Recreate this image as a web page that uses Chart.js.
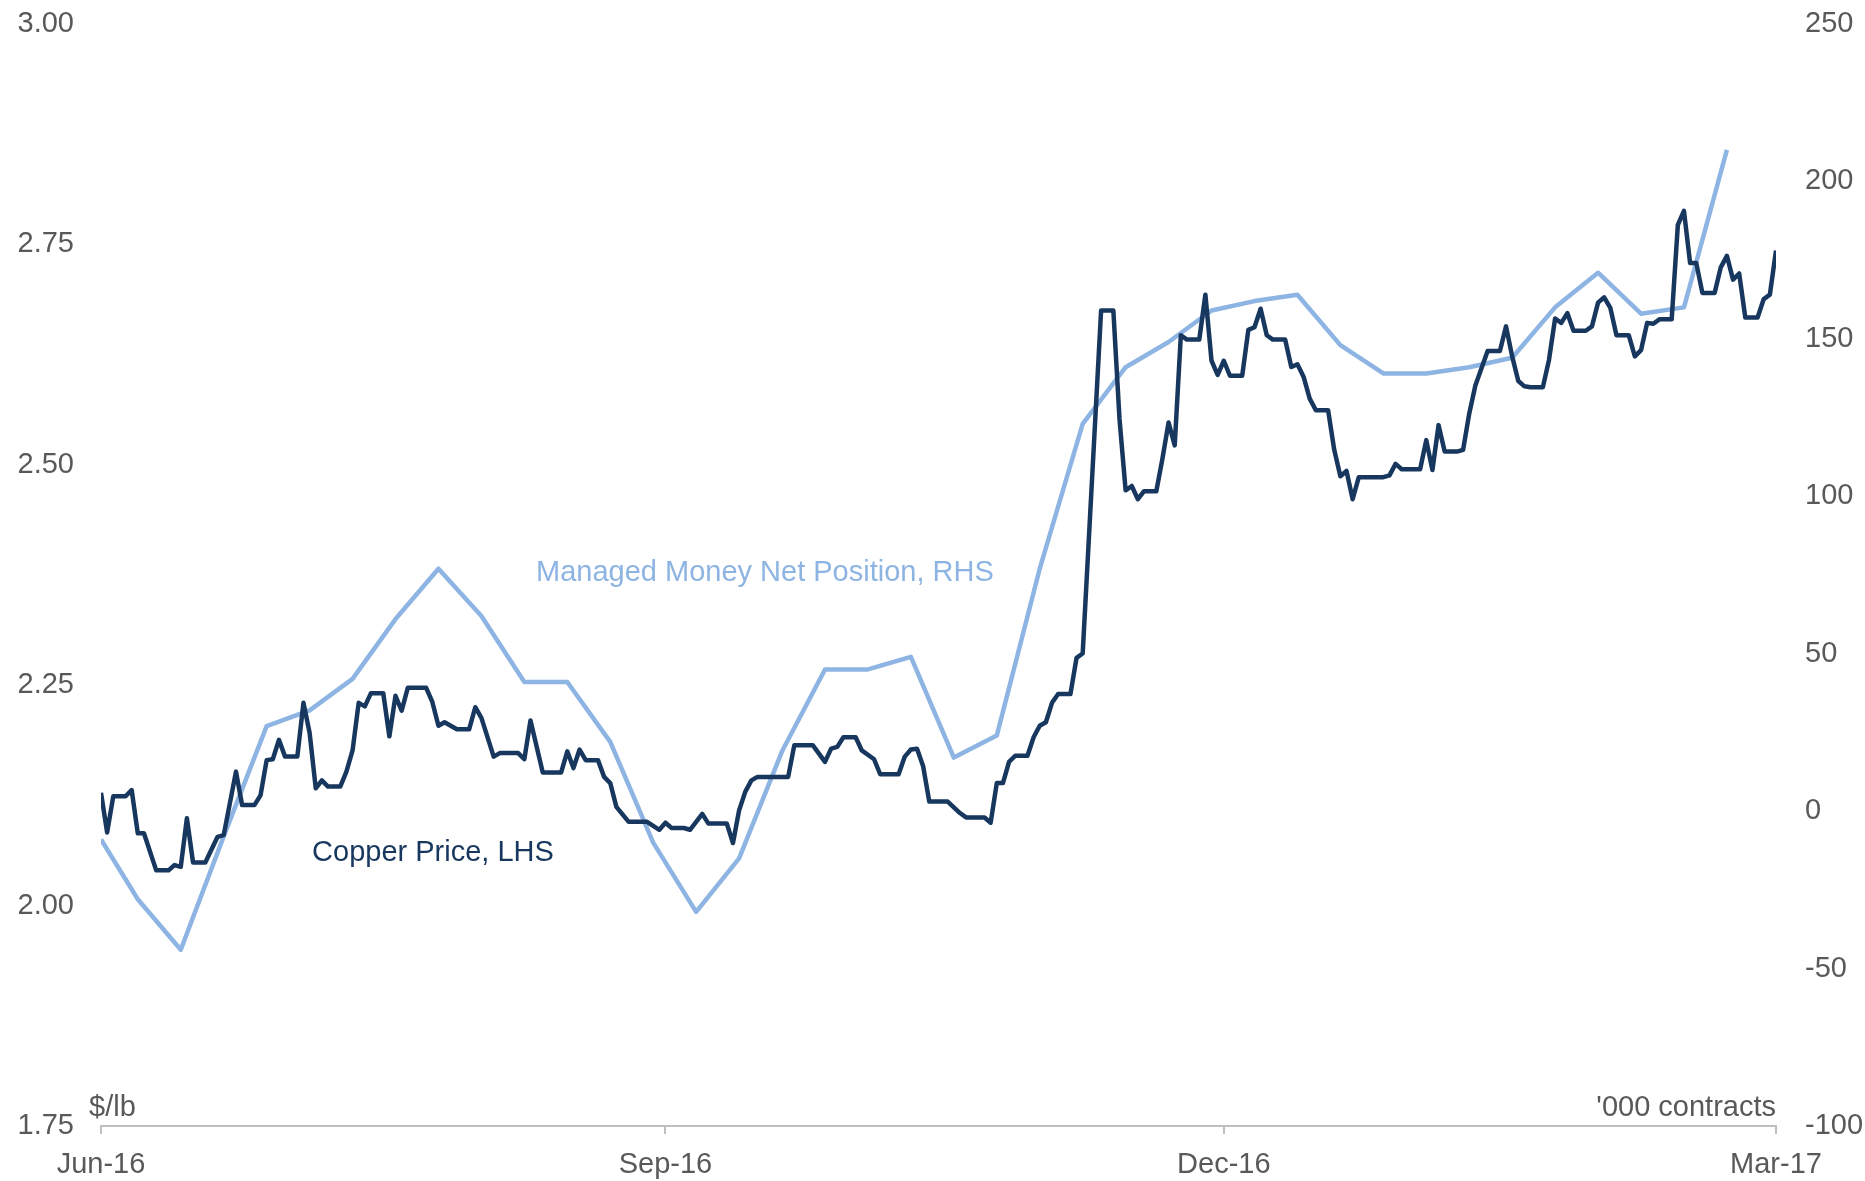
<!DOCTYPE html>
<html lang="en">
<head>
  <meta charset="UTF-8">
  <title>Copper Price vs Managed Money Net Position</title>
  <script src="https://cdn.jsdelivr.net/npm/chart.js"></script>
  <style>
    html, body { margin: 0; padding: 0; background: #fff; }
    #wrap { width: 1865px; height: 1181px; }
  </style>
</head>
<body>
  <div id="wrap"><canvas id="copperChart" width="1865" height="1181"></canvas></div>

  <script>
    // x values are days counted from 1 Jun 2016
    const copperDays = [0, 1, 2, 4, 5, 6, 7, 9, 11, 12, 13, 14, 15, 17, 19, 20, 22, 23, 25, 26, 27, 28, 29, 30, 32, 33, 34, 35, 36, 37, 39, 40, 41, 42, 43, 44, 46, 47, 48, 49, 50, 53, 54, 55, 56, 58, 60, 61, 62, 64, 65, 68, 69, 70, 72, 75, 76, 77, 78, 79, 81, 82, 83, 84, 86, 89, 91, 92, 93, 95, 96, 98, 99, 102, 103, 104, 105, 106, 107, 112, 113, 116, 118, 119, 120, 121, 123, 124, 126, 127, 130, 131, 132, 133, 134, 135, 138, 140, 141, 144, 145, 146, 147, 148, 149, 151, 152, 153, 154, 155, 156, 158, 159, 160, 163, 165, 166, 167, 168, 169, 170, 172, 173, 174, 175, 176, 177, 179, 180, 181, 182, 183, 184, 186, 187, 188, 189, 190, 191, 193, 194, 195, 196, 197, 198, 200, 201, 202, 203, 204, 205, 209, 210, 211, 212, 215, 216, 217, 218, 219, 221, 222, 223, 224, 226, 228, 229, 230, 231, 232, 233, 235, 236, 237, 238, 239, 240, 242, 243, 244, 245, 246, 247, 249, 250, 251, 252, 253, 254, 256, 257, 258, 259, 260, 261, 263, 264, 265, 266, 267, 268, 270, 271, 272, 273];
    const copperPrice = [2.128, 2.083, 2.124, 2.124, 2.131, 2.082, 2.082, 2.040, 2.040, 2.046, 2.044, 2.099, 2.049, 2.049, 2.078, 2.080, 2.152, 2.114, 2.114, 2.125, 2.165, 2.166, 2.188, 2.169, 2.169, 2.230, 2.196, 2.133, 2.142, 2.135, 2.135, 2.152, 2.176, 2.230, 2.226, 2.241, 2.241, 2.192, 2.238, 2.221, 2.247, 2.247, 2.231, 2.204, 2.208, 2.200, 2.200, 2.225, 2.213, 2.169, 2.173, 2.173, 2.166, 2.210, 2.151, 2.151, 2.175, 2.156, 2.177, 2.165, 2.165, 2.146, 2.139, 2.112, 2.095, 2.095, 2.086, 2.094, 2.088, 2.088, 2.086, 2.104, 2.093, 2.093, 2.071, 2.108, 2.129, 2.142, 2.146, 2.146, 2.182, 2.182, 2.163, 2.178, 2.180, 2.191, 2.191, 2.176, 2.166, 2.149, 2.149, 2.169, 2.177, 2.178, 2.158, 2.118, 2.118, 2.105, 2.100, 2.100, 2.094, 2.139, 2.139, 2.163, 2.170, 2.170, 2.191, 2.204, 2.208, 2.230, 2.240, 2.240, 2.281, 2.286, 2.675, 2.675, 2.552, 2.471, 2.476, 2.461, 2.470, 2.470, 2.507, 2.548, 2.522, 2.647, 2.642, 2.642, 2.693, 2.618, 2.602, 2.618, 2.601, 2.601, 2.653, 2.656, 2.677, 2.647, 2.642, 2.642, 2.611, 2.614, 2.600, 2.575, 2.562, 2.562, 2.517, 2.487, 2.493, 2.461, 2.486, 2.486, 2.488, 2.501, 2.495, 2.495, 2.528, 2.494, 2.545, 2.515, 2.515, 2.517, 2.558, 2.590, 2.629, 2.629, 2.657, 2.623, 2.595, 2.589, 2.588, 2.588, 2.619, 2.666, 2.661, 2.672, 2.652, 2.652, 2.657, 2.684, 2.690, 2.678, 2.647, 2.647, 2.623, 2.630, 2.661, 2.660, 2.665, 2.665, 2.772, 2.788, 2.729, 2.729, 2.695, 2.695, 2.724, 2.737, 2.710, 2.717, 2.667, 2.667, 2.688, 2.693, 2.743];

    // weekly managed money net position, '000 contracts
    const mmDays = [0, 6, 13, 20, 27, 34, 41, 48, 55, 62, 69, 76, 83, 90, 97, 104, 111, 118, 125, 132, 139, 146, 153, 160, 167, 174, 181, 188, 195, 202, 209, 216, 223, 230, 237, 244, 251, 258, 265];
    const mmNet = [-9, -28, -44, -8, 27, 32, 42, 61, 77, 62, 41, 41, 22, -10, -32, -15, 19, 45, 45, 49, 17, 24, 77, 123, 141, 149, 159, 162, 164, 148, 139, 139, 141, 144, 160, 171, 158, 160, 210];

    const xTickDays = [0, 92, 183, 273];
    const xTickLabels = ['Jun-16', 'Sep-16', 'Dec-16', 'Mar-17'];

    const navy = '#17375E';
    const lightBlue = '#8DB4E2';
    const grey = '#595959';
    const fontFamily = '"Liberation Sans", Arial, sans-serif';

    const toPoints = (xs, ys) => xs.map((x, i) => ({ x: x, y: ys[i] }));

    // fixed axis sizes so the plot area matches the original frame
    const fixWidth = (w) => (scale) => {
      scale.width = w;
      scale.paddingTop = 0;
      scale.paddingBottom = 0;
    };

    // series names and axis units written inside the plot
    const textPlugin = {
      id: 'chartText',
      afterDraw(chart) {
        const c = chart.ctx;
        const x = chart.scales.x;
        const yL = chart.scales.yLeft;
        const yR = chart.scales.yRight;
        const area = chart.chartArea;
        c.save();
        c.font = '29px ' + fontFamily;
        c.textBaseline = 'middle';

        c.fillStyle = navy;
        c.textAlign = 'left';
        c.fillText('Copper Price, LHS', x.getPixelForValue(34.4), yL.getPixelForValue(2.06));

        c.fillStyle = lightBlue;
        c.fillText('Managed Money Net Position, RHS', x.getPixelForValue(70.9), yR.getPixelForValue(75.6));

        c.fillStyle = grey;
        c.fillText('$/lb', area.left - 12, area.bottom - 18);
        c.textAlign = 'right';
        c.fillText("'000 contracts", area.right, area.bottom - 18);
        c.restore();
      }
    };

    const ctx = document.getElementById('copperChart').getContext('2d');

    new Chart(ctx, {
      type: 'line',
      data: {
        datasets: [{
          label: 'Copper Price, LHS',
          data: toPoints(copperDays, copperPrice),
          yAxisID: 'yLeft',
          borderColor: navy,
          borderWidth: 4.5,
          pointRadius: 0,
          tension: 0,
          borderJoinStyle: 'round'
        }, {
          label: 'Managed Money Net Position, RHS',
          data: toPoints(mmDays, mmNet),
          yAxisID: 'yRight',
          borderColor: lightBlue,
          borderWidth: 4.5,
          pointRadius: 0,
          tension: 0,
          borderJoinStyle: 'round'
        }]
      },
      options: {
        responsive: false,
        animation: false,
        devicePixelRatio: 1,
        layout: { padding: { top: 24, left: 0, right: 0, bottom: 0 } },
        plugins: {
          legend: { display: false },
          tooltip: { enabled: false }
        },
        scales: {
          x: {
            type: 'linear',
            min: 0,
            max: 273,
            afterBuildTicks: (scale) => {
              scale.ticks = xTickDays.map(v => ({ value: v }));
            },
            afterFit: (scale) => {
              scale.height = 55;
              scale.paddingLeft = 0;
              scale.paddingRight = 0;
            },
            grid: {
              display: true,
              drawOnChartArea: false,
              drawTicks: true,
              tickLength: 8,
              color: '#BFBFBF',
              lineWidth: 2
            },
            border: { display: true, color: '#BFBFBF', width: 2 },
            ticks: {
              autoSkip: false,
              maxRotation: 0,
              padding: 14,
              color: grey,
              font: { family: fontFamily, size: 29 },
              callback: (v) => {
                const i = xTickDays.indexOf(v);
                return i >= 0 ? xTickLabels[i] : '';
              }
            }
          },
          yLeft: {
            type: 'linear',
            position: 'left',
            min: 1.75,
            max: 3,
            afterFit: fixWidth(101),
            grid: { display: false, drawTicks: false },
            border: { display: false },
            ticks: {
              stepSize: 0.25,
              padding: 27,
              color: grey,
              font: { family: fontFamily, size: 29 },
              callback: (v) => v.toFixed(2)
            }
          },
          yRight: {
            type: 'linear',
            position: 'right',
            min: -100,
            max: 250,
            afterFit: fixWidth(89),
            grid: { display: false, drawTicks: false },
            border: { display: false },
            ticks: {
              stepSize: 50,
              padding: 29,
              color: grey,
              font: { family: fontFamily, size: 29 }
            }
          }
        }
      },
      plugins: [textPlugin]
    });
  </script>
</body>
</html>
